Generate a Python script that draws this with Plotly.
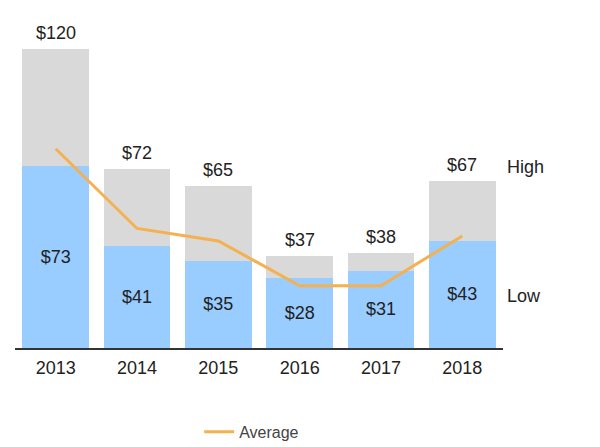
import plotly.graph_objects as go

years = ["2013", "2014", "2015", "2016", "2017", "2018"]
low = [73, 41, 35, 28, 31, 43]
high = [120, 72, 65, 37, 38, 67]
average = [80, 48, 43, 25, 25, 45]

gap = [h - l for h, l in zip(high, low)]

BLUE = "#99CCFF"
GRAY = "#D9D9D9"
ORANGE = "#F5B04F"
TXT = "#222222"
FONT = "Liberation Sans, Arial, sans-serif"
FS = 18

fig = go.Figure()
fig.add_trace(go.Bar(
    x=years, y=low, marker=dict(color=BLUE, line=dict(width=0)),
    text=[f"${v}" for v in low], textposition="inside", insidetextanchor="middle",
    textfont=dict(size=FS, color=TXT, family=FONT), showlegend=False, name="Low",
))
fig.add_trace(go.Bar(
    x=years, y=gap, marker=dict(color=GRAY, line=dict(width=0)),
    showlegend=False, name="High",
))
fig.add_trace(go.Scatter(
    x=years, y=average, mode="lines", name="Average",
    line=dict(color=ORANGE, width=3),
))

# category axis: annotation x given as category index
for i, h in enumerate(high):
    fig.add_annotation(text=f"${h}", x=i, y=h, xref="x", yref="y",
                       yanchor="bottom", yshift=4, showarrow=False,
                       font=dict(size=FS, color=TXT, family=FONT))

fig.add_annotation(text="High", x=1, xref="paper", y=72.7, yref="y",
                   xanchor="left", xshift=2, showarrow=False,
                   font=dict(size=FS, color=TXT, family=FONT))
fig.add_annotation(text="Low", x=1, xref="paper", y=20.9, yref="y",
                   xanchor="left", xshift=2, showarrow=False,
                   font=dict(size=FS, color=TXT, family=FONT))

fig.update_layout(
    width=600, height=447,
    margin=dict(l=15, r=97, t=20, b=99),
    paper_bgcolor="white", plot_bgcolor="white",
    barmode="stack", bargap=0.18,
    font=dict(family=FONT, color=TXT),
    legend=dict(orientation="h", x=0.485, xanchor="center", xref="paper",
                y=0.034, yanchor="middle", yref="container",
                font=dict(size=16, color="#444444", family=FONT)),
    xaxis=dict(type="category", showgrid=False, showline=True, linecolor="#333333", linewidth=1.5,
               ticks="", tickfont=dict(size=FS, color=TXT, family=FONT), ticklabelstandoff=3),
    yaxis=dict(range=[0, 131.7], visible=False, showgrid=False, zeroline=False),
)

fig.write_html("out.html")
